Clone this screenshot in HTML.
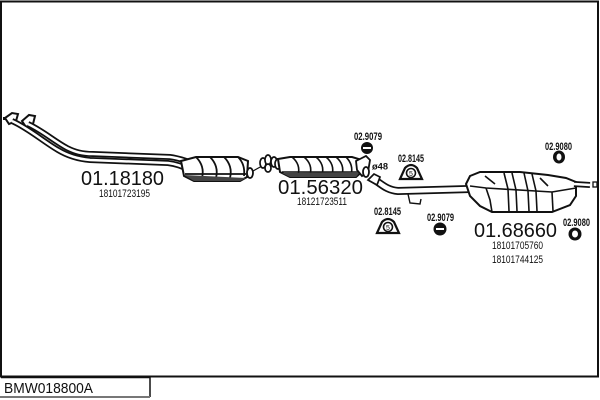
<!DOCTYPE html>
<html><head><meta charset="utf-8"><style>
html,body{margin:0;padding:0;background:#fff;}
svg{display:block;}
text{font-family:"Liberation Sans",Arial,sans-serif;fill:#111;}
</style></head><body>
<svg width="600" height="400" viewBox="0 0 600 400" xmlns="http://www.w3.org/2000/svg">
<!-- outer frame -->
<rect x="1" y="1.5" width="597" height="375" fill="none" stroke="#111" stroke-width="2"/>
<!-- title box -->
<line x1="1" y1="377.5" x2="150" y2="377.5" stroke="#111" stroke-width="1.5"/>
<line x1="150" y1="376" x2="150" y2="397" stroke="#111" stroke-width="1.5"/>
<line x1="0" y1="397" x2="150" y2="397" stroke="#777" stroke-width="2"/>
<text x="4" y="393" font-size="15" textLength="89" lengthAdjust="spacingAndGlyphs">BMW018800A</text>

<!-- front pipe flanges -->
<g fill="#fff" stroke="#111" stroke-width="2">
<polygon points="5,118 12,113 18,114 16,121 9,124"/>
<polygon points="22,121 29,115 35,116 33,124 26,127"/>
</g>
<rect x="3" y="117" width="3" height="3" fill="#111"/>
<!-- front pipe tubes -->
<g fill="none" stroke-linecap="butt">
<path d="M12,121 C28,128 44,142 58,150 C68,156 78,159 90,160 L168,163 C176,164 181,166 188,169" stroke="#111" stroke-width="6"/>
<path d="M12,121 C28,128 44,142 58,150 C68,156 78,159 90,160 L168,163 C176,164 181,166 188,169" stroke="#fff" stroke-width="2.5"/>
<path d="M28,124 C43,131 54,141 67,148 C75,152 82,154 93,154 L170,157 C178,158 183,160 190,162" stroke="#111" stroke-width="6"/>
<path d="M28,124 C43,131 54,141 67,148 C75,152 82,154 93,154 L170,157 C178,158 183,160 190,162" stroke="#fff" stroke-width="2.5"/>
</g>

<!-- cat 1 -->
<g stroke="#111" stroke-width="2" fill="#fff">
<path d="M181,161 L196,157 L238,157 L248,161 L247,177 L240,181 L194,181 L184,176 Z"/>
</g>
<g stroke="#111" stroke-width="1.8" fill="none">
<path d="M196,157 C202,163 204,170 202,178"/>
<path d="M210,157 C216,163 218,170 216,178"/>
<path d="M224,157 C230,163 232,170 230,178"/>
<path d="M238,157 C243,162 245,168 244,176"/>
<path d="M185,174 L246,174"/>
</g>
<path d="M184,175 L246,178 L240,181 L194,181 Z" fill="#444"/>
<!-- ring after cat1 -->
<ellipse cx="250" cy="173" rx="3" ry="5" fill="#fff" stroke="#111" stroke-width="1.8"/>
<line x1="253" y1="171" x2="262" y2="166" stroke="#111" stroke-width="1.2"/>
<!-- clamps -->
<g fill="#fff" stroke="#111" stroke-width="1.7">
<ellipse cx="263" cy="163" rx="3" ry="5"/>
<ellipse cx="268" cy="160" rx="3" ry="5"/>
<ellipse cx="268" cy="168" rx="3" ry="4"/>
<ellipse cx="274" cy="162" rx="3" ry="5"/>
<ellipse cx="278" cy="164" rx="3" ry="5"/>
</g>

<!-- cat 2 -->
<g stroke="#111" stroke-width="2" fill="#fff">
<path d="M278,159 L290,157 L352,157 L362,160 L364,170 L356,177 L290,177 L280,172 Z"/>
</g>
<g stroke="#111" stroke-width="1.6" fill="none">
<path d="M292,157 C298,162 300,168 298,175"/>
<path d="M304,157 C310,162 312,168 310,175"/>
<path d="M316,157 C322,162 324,168 322,175"/>
<path d="M326,157 C332,162 334,168 332,175"/>
<path d="M336,157 C342,162 344,168 342,175"/>
<path d="M346,157 C351,162 353,168 351,175"/>
<path d="M282,172 L360,172"/>
</g>
<path d="M282,173 L360,172 L356,177 L290,177 Z" fill="#444"/>
<!-- cat2 outlet -->
<g fill="#fff" stroke="#111" stroke-width="1.8">
<path d="M356,161 L366,156 L370,160 L368,172 L362,176 L357,170 Z"/>
<ellipse cx="366" cy="172" rx="3" ry="5"/>
</g>
<text x="372" y="169.5" font-size="9" font-weight="bold" textLength="16" lengthAdjust="spacingAndGlyphs">ø48</text>

<!-- rear pipe -->
<g fill="none">
<path d="M371,178 C380,182 385,190 398,191 L470,189" stroke="#111" stroke-width="8"/>
<path d="M371,178 C380,182 385,190 398,191 L470,189" stroke="#fff" stroke-width="4.5"/>
</g>
<g fill="#fff" stroke="#111" stroke-width="1.7">
<path d="M368,180 L374,174 L380,177 L377,185 Z"/>
</g>
<!-- hanger -->
<path d="M408,194 L410,203 L420,204 L421,199" fill="none" stroke="#111" stroke-width="1.4"/>

<!-- rear muffler -->
<g stroke="#111" stroke-width="2" fill="#fff">
<path d="M466,184 L470,176 L480,172 L520,172 L548,175 L566,178 L576,182 L576,196 L570,205 L552,212 L492,212 L480,206 L470,196 Z"/>
</g>
<g stroke="#111" stroke-width="1.6" fill="none">
<path d="M470,186 L486,188 L552,192 L576,188"/>
<path d="M486,188 L490,200 L492,212"/>
<path d="M504,173 L508,189 L509,211"/>
<path d="M512,173 L516,190 L517,211"/>
<path d="M524,173 L528,191 L529,211"/>
<path d="M532,174 L536,191 L537,211"/>
<path d="M552,192 L553,211"/>
<path d="M485,176 L495,184"/>
<path d="M540,178 L548,186"/>
</g>
<!-- tailpipe -->
<g fill="none">
<path d="M574,184 L590,185" stroke="#111" stroke-width="6"/>
<path d="M574,184 L590,185" stroke="#fff" stroke-width="2.5"/>
</g>
<rect x="593" y="182" width="4" height="5" fill="#fff" stroke="#111" stroke-width="1.3"/>

<!-- part icons -->
<circle cx="367" cy="148" r="6" fill="#111"/>
<rect x="363" y="147" width="8" height="2" fill="#fff"/>
<circle cx="440" cy="229" r="6.5" fill="#111"/>
<rect x="436" y="228" width="8" height="2" fill="#fff"/>
<ellipse cx="559" cy="157" rx="6" ry="6.5" fill="#111"/>
<ellipse cx="559" cy="157" rx="2.5" ry="3.5" fill="#fff"/>
<ellipse cx="575" cy="234" rx="6.5" ry="6.5" fill="#111"/>
<ellipse cx="575" cy="234" rx="3" ry="3.5" fill="#fff"/>
<g transform="translate(411,172)">
<path d="M-11,7 L-6,-4 Q0,-10 6,-4 L11,7 Z" fill="#fff" stroke="#111" stroke-width="2.2"/>
<circle cx="0" cy="1" r="4.5" fill="#fff" stroke="#111" stroke-width="1.6"/>
<text x="-2" y="4" font-size="7">5</text>
</g>
<g transform="translate(388,226)">
<path d="M-11,7 L-6,-4 Q0,-10 6,-4 L11,7 Z" fill="#fff" stroke="#111" stroke-width="2.2"/>
<circle cx="0" cy="1" r="4.5" fill="#fff" stroke="#111" stroke-width="1.6"/>
<text x="-2" y="4" font-size="7">5</text>
</g>

<!-- labels -->
<text x="81" y="185" font-size="20" textLength="83" lengthAdjust="spacingAndGlyphs">01.18180</text>
<text x="99" y="197" font-size="11" fill="#333" textLength="51" lengthAdjust="spacingAndGlyphs">18101723195</text>
<text x="278" y="194" font-size="20" textLength="85" lengthAdjust="spacingAndGlyphs">01.56320</text>
<text x="297" y="205" font-size="11" fill="#333" textLength="50" lengthAdjust="spacingAndGlyphs">18121723511</text>
<text x="474" y="237" font-size="20" textLength="83" lengthAdjust="spacingAndGlyphs">01.68660</text>
<text x="492" y="249" font-size="11" fill="#333" textLength="51" lengthAdjust="spacingAndGlyphs">18101705760</text>
<text x="492" y="263" font-size="11" fill="#333" textLength="51" lengthAdjust="spacingAndGlyphs">18101744125</text>

<g font-weight="bold">
<text x="354" y="140" font-size="11" textLength="28" lengthAdjust="spacingAndGlyphs">02.9079</text>
<text x="398" y="162" font-size="11" textLength="26" lengthAdjust="spacingAndGlyphs">02.8145</text>
<text x="545" y="150" font-size="11" textLength="27" lengthAdjust="spacingAndGlyphs">02.9080</text>
<text x="374" y="215" font-size="11" textLength="27" lengthAdjust="spacingAndGlyphs">02.8145</text>
<text x="427" y="221" font-size="11" textLength="27" lengthAdjust="spacingAndGlyphs">02.9079</text>
<text x="563" y="226" font-size="11" textLength="27" lengthAdjust="spacingAndGlyphs">02.9080</text>
</g>
</svg>
</body></html>
